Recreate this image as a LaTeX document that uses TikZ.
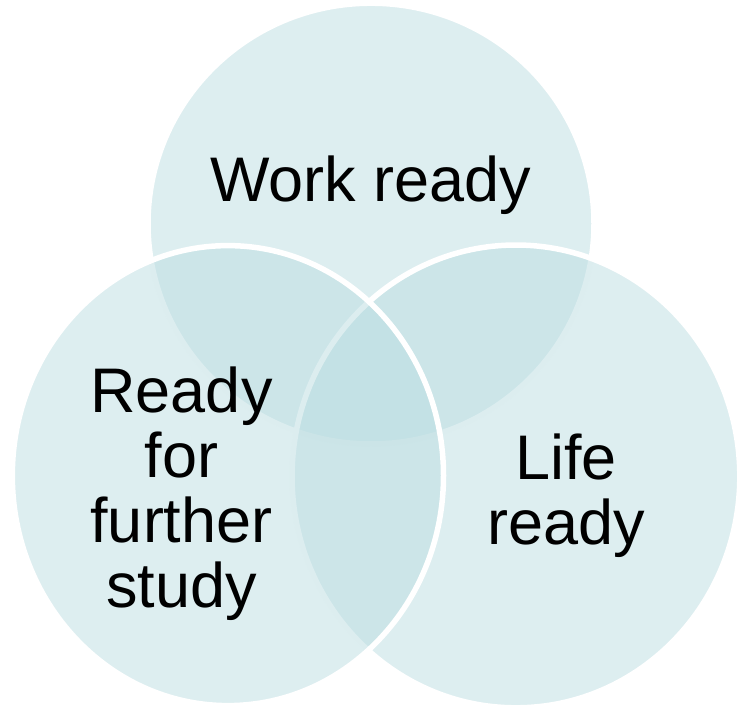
\documentclass[tikz,border=0pt]{standalone}
\usepackage{fontspec}
\setmainfont{Liberation Sans}

\definecolor{vennfill}{RGB}{187,221,225}
\tikzset{
  venn/.style={fill=vennfill, fill opacity=0.5, draw=white, line width=5.5pt},
  vennlabel/.style={align=center, inner sep=0pt, text=black,
    font=\fontsize{63}{65}\selectfont}
}

\begin{document}
\begin{tikzpicture}[x=1pt, y=-1pt]
\useasboundingbox (0,0) rectangle (738,706);
% the three sets, top first, left one last
\path[venn] (371,223.6) ellipse [x radius=223, y radius=220.4];
\path[venn] (515.9,476.4) ellipse [x radius=223.9, y radius=231.4];
\path[venn] (227.9,475.6) ellipse [x radius=215.6, y radius=230];
% labels
\node[vennlabel] (work) at (371,185.5) {Work ready};
\node[vennlabel] (study) at (181.5,494) {Ready\\for\\further\\study};
\node[vennlabel] (life) at (566,496) {Life\\ready};
\end{tikzpicture}
\end{document}
